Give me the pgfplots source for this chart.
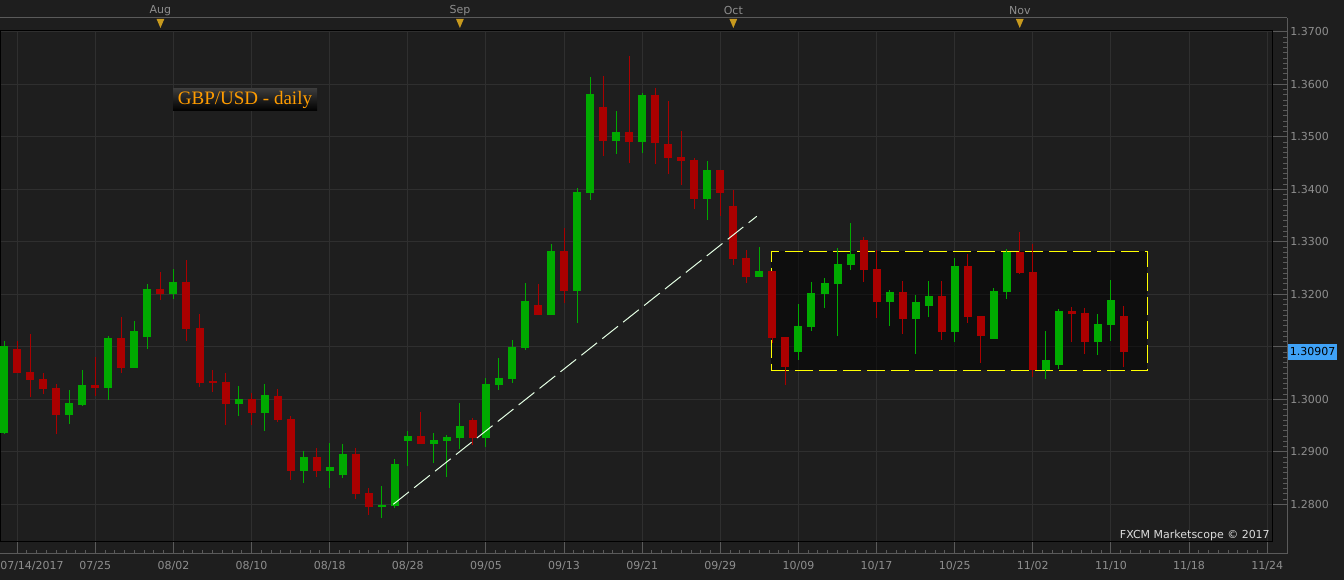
\documentclass[border=0pt]{standalone}
\usepackage{pgfplots}
\usepackage{pgfplotstable}
\pgfplotsset{compat=1.18}
\usepackage{fontspec}
\setmainfont{DejaVu Sans}
\newfontfamily\titlefont{Liberation Serif}
\definecolor{bg}{HTML}{1E1E1E}
\definecolor{gridc}{HTML}{2F2F2F}
\definecolor{axc}{HTML}{5A5A5A}
\definecolor{lab}{HTML}{8E8E8E}
\definecolor{upc}{HTML}{00AA00}
\definecolor{dnc}{HTML}{AA0000}
\definecolor{boxline}{HTML}{FFFF00}
\definecolor{trend}{HTML}{E4FFE4}
\definecolor{tri}{HTML}{C89A1E}
\definecolor{pricebox}{HTML}{3FA2F7}
\definecolor{titlec}{HTML}{FF9C00}
\definecolor{titletop}{HTML}{3A3A3A}
\definecolor{fxcm}{HTML}{DCDCDC}

\pgfplotstableread{
k O H L C
0 1.29364 1.31110 1.29345 1.31015
5 1.29707 1.30177 1.29535 1.29930
6 1.29897 1.30558 1.29878 1.30272
8 1.30221 1.31206 1.29992 1.31168
10 1.30602 1.31491 1.30602 1.31301
11 1.31192 1.32196 1.30964 1.32101
13 1.32011 1.32482 1.31916 1.32234
18 1.29916 1.30253 1.29688 1.30006
20 1.29745 1.30291 1.29402 1.30082
23 1.28640 1.29015 1.28411 1.28901
25 1.28640 1.29168 1.28316 1.28710
26 1.28564 1.29149 1.28507 1.28958
29 1.27954 1.28349 1.27745 1.27987
30 1.27973 1.28863 1.27935 1.28768
31 1.29211 1.29396 1.28735 1.29301
33 1.29154 1.29358 1.28792 1.29225
34 1.29206 1.29320 1.28526 1.29282
35 1.29269 1.29930 1.29059 1.29491
37 1.29269 1.30406 1.29097 1.30291
38 1.30272 1.30787 1.30183 1.30406
39 1.30392 1.31130 1.30316 1.30996
40 1.30983 1.32215 1.30945 1.31872
42 1.31611 1.32958 1.31611 1.32825
44 1.32069 1.34025 1.31459 1.33949
45 1.33935 1.36139 1.33802 1.35815
47 1.34926 1.35491 1.34678 1.35091
49 1.34907 1.35834 1.34697 1.35796
54 1.33821 1.34539 1.33421 1.34368
58 1.32335 1.32901 1.32335 1.32444
61 1.30907 1.31815 1.30754 1.31396
62 1.31383 1.32234 1.31307 1.32025
63 1.32011 1.32310 1.31745 1.32215
64 1.32202 1.32882 1.31211 1.32577
65 1.32564 1.33358 1.32469 1.32768
68 1.31859 1.32082 1.31402 1.32044
70 1.31535 1.31987 1.30869 1.31853
71 1.31783 1.32253 1.31573 1.31968
73 1.31288 1.32691 1.31097 1.32539
76 1.31154 1.32120 1.31154 1.32063
77 1.32050 1.32863 1.31916 1.32806
80 1.30564 1.31301 1.30392 1.30749
81 1.30659 1.31720 1.30583 1.31682
84 1.31097 1.31625 1.30850 1.31434
85 1.31421 1.32272 1.31116 1.31891
}\up

\pgfplotstableread{
k O H L C
1 1.30958 1.31110 1.30507 1.30507
2 1.30520 1.31244 1.30050 1.30373
3 1.30381 1.30495 1.30101 1.30202
4 1.30215 1.30286 1.29333 1.29707
7 1.30272 1.30806 1.30069 1.30221
9 1.31168 1.31568 1.30507 1.30602
12 1.32101 1.32425 1.31897 1.32011
14 1.32234 1.32653 1.31116 1.31345
15 1.31358 1.31625 1.30240 1.30316
16 1.30349 1.30558 1.30145 1.30316
17 1.30330 1.30501 1.29516 1.29916
19 1.30000 1.30114 1.29516 1.29745
21 1.30063 1.30196 1.29573 1.29611
22 1.29625 1.29682 1.28469 1.28640
24 1.28901 1.29072 1.28526 1.28640
27 1.28958 1.29072 1.28107 1.28202
28 1.28215 1.28316 1.27802 1.27954
32 1.29301 1.29758 1.29154 1.29154
36 1.29606 1.29644 1.29135 1.29269
41 1.31796 1.32196 1.31611 1.31611
43 1.32825 1.33263 1.31829 1.32069
46 1.35568 1.36158 1.34640 1.34926
48 1.35091 1.36539 1.34507 1.34907
50 1.35796 1.35930 1.34488 1.34888
51 1.34863 1.35682 1.34297 1.34602
52 1.34615 1.35110 1.34088 1.34545
53 1.34558 1.34596 1.33630 1.33821
55 1.34368 1.34368 1.33497 1.33935
56 1.33682 1.33987 1.32564 1.32678
57 1.32691 1.32844 1.32221 1.32335
59 1.32444 1.32444 1.31078 1.31173
60 1.31187 1.31187 1.30278 1.30621
66 1.33034 1.33086 1.32240 1.32469
67 1.32482 1.32844 1.31554 1.31859
69 1.32044 1.32253 1.31250 1.31535
72 1.31968 1.32253 1.31135 1.31288
74 1.32539 1.32768 1.31459 1.31573
75 1.31587 1.31587 1.30697 1.31211
78 1.32806 1.33187 1.32392 1.32411
79 1.32425 1.32958 1.30430 1.30564
82 1.31682 1.31758 1.31097 1.31630
83 1.31644 1.31739 1.30869 1.31097
86 1.31587 1.31777 1.30621 1.30907
}\down

\begin{document}
\begin{tikzpicture}
\useasboundingbox (0pt,0pt) rectangle (1008pt,435pt);
\fill[bg] (0pt,0pt) rectangle (1008pt,435pt);
% outer frame axis: lines, small ticks and labels
\begin{axis}[
  at={(0pt,19.5pt)}, anchor=south west, scale only axis,
  width=965.25pt, height=402pt,
  xmin=-0.3226, xmax=98.525, ymin=1.270533, ymax=1.372629,
  clip=false,
  axis x line*=box, axis y line*=right,
  axis line style={axc, line width=0.75pt},
  tick style={axc, line width=0.75pt},
  tick align=inside,
  major tick length=11.25pt, minor tick length=3pt,
  xtick={1,7,...,97}, minor x tick num=7, xtick pos=bottom,
  ytick={1.28,1.29,1.30,1.31,1.32,1.33,1.34,1.35,1.36,1.37},
  minor y tick num=9, ytick pos=right,
  xticklabels={,07/25,08/02,08/10,08/18,08/28,09/05,09/13,09/21,09/29,10/09,10/17,10/25,11/02,11/10,11/18,11/24},
  yticklabels={1.2800,1.2900,1.3000,,1.3200,1.3300,1.3400,1.3500,1.3600,1.3700},
  tick label style={font=\fontsize{8.25}{10}\selectfont, text=lab},
  xticklabel style={anchor=center, inner sep=0pt, yshift=-9pt},
  yticklabel style={anchor=west, inner sep=0pt, xshift=2.25pt},
]
\foreach \m/\n in {12/Aug,35/Sep,56/Oct,78/Nov}{
  \edef\temp{\noexpand\fill[tri] (axis cs:\m,1.372629) ++(-2.9pt,-0.75pt) -- ++(5.8pt,0pt) -- ++(-2.9pt,-6.75pt) -- cycle;
  \noexpand\node[text=lab, font=\noexpand\fontsize{8.25}{10}\noexpand\selectfont, inner sep=0pt] at (axis cs:\m,1.372629) [yshift=5.5pt] {\n};}
  \temp
}
\node[anchor=west, fill=pricebox, text=black, inner xsep=1.5pt, inner ysep=0pt, minimum height=12pt,
  font=\fontsize{8.25}{10}\selectfont] at (axis cs:98.525,1.30907) [xshift=0.5pt] {1.30907};
\end{axis}
% main plot area
\begin{axis}[
  at={(0pt,28.5pt)}, anchor=south west, scale only axis,
  width=954pt, height=383.25pt,
  xmin=-0.3226, xmax=97.37, ymin=1.272819, ymax=1.370152,
  axis background/.style={fill=bg},
  axis line style={black, line width=0.75pt},
  xtick={1,7,...,97},
  ytick={1.28,1.29,1.30,1.31,1.32,1.33,1.34,1.35,1.36,1.37},
  xticklabels={,,}, yticklabels={,,},
  major tick length=0pt, tick style={draw=none},
  grid=major, major grid style={gridc, line width=0.75pt},
]
\addplot[draw=boxline, line width=0.9pt, dash pattern=on 13.5pt off 4.5pt, fill=black, fill opacity=0.5]
  coordinates {(58.9,1.30552) (87.8,1.30552) (87.8,1.32819) (58.9,1.32819)} -- cycle;
% wicks
\addplot[draw=none, mark=none, forget plot, error bars/.cd, y dir=plus, y explicit, error mark=none,
  error bar style={draw=upc, line width=0.75pt}]
  table[x=k, y=L, y error plus expr=\thisrow{H}-\thisrow{L}] {\up};
\addplot[draw=none, mark=none, forget plot, error bars/.cd, y dir=plus, y explicit, error mark=none,
  error bar style={draw=dnc, line width=0.75pt}]
  table[x=k, y=L, y error plus expr=\thisrow{H}-\thisrow{L}] {\down};
% bodies
\addplot[draw=none, mark=none, forget plot, error bars/.cd, y dir=plus, y explicit, error mark=none,
  error bar style={draw=upc, line width=6pt}]
  table[x=k, y=O, y error plus expr=\thisrow{C}-\thisrow{O}] {\up};
\addplot[draw=none, mark=none, forget plot, error bars/.cd, y dir=plus, y explicit, error mark=none,
  error bar style={draw=dnc, line width=6pt}]
  table[x=k, y=C, y error plus expr=\thisrow{O}-\thisrow{C}] {\down};
% trend line
\addplot[trend, line width=0.75pt, dash pattern=on 15pt off 5pt] coordinates {(29.88,1.28000) (57.8,1.33486)};
\end{axis}
\node[anchor=west, inner sep=0pt, text=lab, font=\fontsize{8.25}{10}\selectfont] at (0pt,10.5pt) {07/14/2017};
\node[minimum width=108pt, minimum height=16.5pt, inner sep=0pt, top color=titletop, bottom color=black,
  text=titlec, font=\titlefont\fontsize{14.25}{16}\selectfont] at (183.75pt,360pt) {GBP/USD - daily};
\node[anchor=east, inner sep=0pt, text=fxcm, font=\fontsize{8.25}{10}\selectfont] at (952.5pt,33.75pt) {FXCM Marketscope © 2017};
\end{tikzpicture}
\end{document}
